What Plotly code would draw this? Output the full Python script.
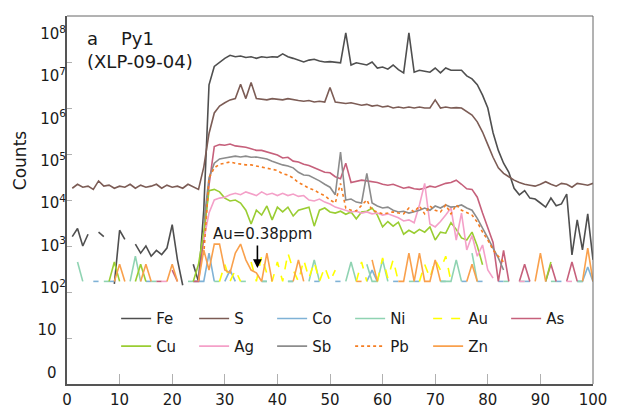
import plotly.graph_objects as go

FONT = "DejaVu Sans"
N = None

time_s = list(range(1, 101))

fe = [1.6e3, 2.4e3, 1.0e3, 1.8e3, N, 2.0e3, 1.6e3, N, 150, 2.2e3,
      1.4e3, N, 1.1e3, 700, 1.0e3, 600, 800, 650, 900, 2.9e3,
      500, 140, N, 400, 170, 6.0e3, 3.2e6, 8.0e6, 1.0e7, 1.2e7,
      1.4e7, 1.3e7, 1.35e7, 1.25e7, 1.3e7, 1.2e7, 1.3e7, 1.25e7, 1.3e7, 1.28e7,
      1.5e7, 1.3e7, 1.2e7, 1.1e7, 1.0e7, 1.1e7, 1.15e7, 1.05e7, 1.0e7, 1.02e7,
      9.8e6, 9.6e6, 4.3e7, 8.6e6, 9.6e6, 9.0e6, 8.6e6, 1.0e7, 7.4e6, 7.8e6,
      7.0e6, 8.6e6, 6.8e6, 5.8e6, 4.3e7, 6.0e6, 6.6e6, 6.3e6, 6.0e6, 7.4e6,
      5.8e6, 7.4e6, 6.6e6, 6.6e6, 6.6e6, 5.0e6, 4.3e6, 3.2e6, 1.9e6, 1.0e6,
      2.9e5, 1.2e5, 6.3e4, 4.0e4, 1.8e4, 1.3e4, 1.6e4, 1.1e4, 1.05e4, 8.6e3,
      7.0e3, 1.1e4, 7.5e3, 8.2e3, 1.35e4, 640, 3.7e3, 820, 5.0e3, 500]

s = [1.8e4, 2.2e4, 1.9e4, 2.0e4, 1.7e4, 2.6e4, 2.0e4, 2.1e4, 1.8e4, 2.0e4,
     1.9e4, 2.2e4, 1.8e4, 2.1e4, 1.9e4, 2.0e4, 2.2e4, 1.8e4, 2.1e4, 1.9e4,
     2.0e4, 1.8e4, 2.2e4, 1.9e4, 1.7e4, 5.2e4, 2.8e5, 7.8e5, 1.1e6, 1.3e6,
     1.5e6, 1.6e6, 3.3e6, 1.6e6, 3.6e6, 1.6e6, 1.55e6, 1.5e6, 1.6e6, 1.55e6,
     1.5e6, 1.6e6, 1.5e6, 1.45e6, 1.4e6, 1.45e6, 1.35e6, 1.4e6, 1.35e6, 2.8e6,
     1.35e6, 1.3e6, 1.25e6, 1.3e6, 1.2e6, 1.15e6, 1.2e6, 1.1e6, 1.15e6, 1.05e6,
     1.1e6, 1.0e6, 1.05e6, 1.0e6, 1.05e6, 1.0e6, 1.05e6, 1.0e6, 1.0e6, 1.5e6,
     1.0e6, 1.05e6, 1.0e6, 1.02e6, 1.0e6, 8.5e5, 7.0e5, 5.0e5, 3.0e5, 1.6e5,
     8.5e4, 5.0e4, 3.8e4, 3.2e4, 2.7e4, 2.4e4, 2.2e4, 2.1e4, 2.0e4, 2.2e4,
     2.5e4, 2.2e4, 2.0e4, 2.3e4, 2.2e4, 1.9e4, 2.3e4, 2.2e4, 2.1e4, 2.3e4]

co = [N, N, N, N, 170, 170, N, 170, 170, N,
      N, N, N, N, 170, 170, N, N, N, N,
      N, N, N, 170, 170, 170, 700, 170, N, 170,
      300, 170, N, N, N, N, 170, 170, N, N,
      N, 170, 170, N, N, N, 170, 170, N, N,
      170, 170, N, N, N, N, 170, 300, 170, N,
      N, 170, 170, N, N, 170, 170, N, N, N,
      170, 170, N, N, 170, 170, N, 170, 170, N,
      N, 170, 170, N, N, N, 170, 170, N, N,
      N, N, 170, 170, N, N, 170, 170, 350, 170]

ni = [N, 450, 170, N, N, N, 170, 170, N, N,
      N, 170, 600, 170, N, 170, 170, N, N, N,
      N, N, 170, 170, N, N, N, 170, 170, N,
      N, N, 170, 170, N, N, 170, 170, N, N,
      N, 170, 170, N, N, 170, 500, 170, N, N,
      N, N, 170, 450, 170, N, 400, 170, 170, 500,
      170, N, N, N, 170, 170, N, N, N, N,
      170, 170, 170, 500, 170, N, 700, 170, N, N,
      N, N, 170, 170, N, 170, 170, N, N, N,
      N, 170, 170, N, N, N, 170, 170, N, N]

au = [N, N, N, N, N, N, N, N, N, N,
      N, N, N, N, N, N, N, N, N, N,
      N, N, N, N, N, N, N, N, 170, 400,
      170, 300, 170, N, 450, 170, 600, 250, 170, 450,
      170, 700, 300, 170, 500, 200, 450, 170, 350, 170,
      300, N, N, N, 170, 450, 170, N, 170, 550,
      200, 500, 170, N, N, N, 170, 400, 200, 500,
      300, 600, 170, N, N, N, N, N, N, N,
      N, N, N, N, N, N, N, N, N, N,
      N, N, N, N, N, N, N, N, N, N]

as_ = [N, N, N, N, N, N, N, N, N, N,
       N, N, N, N, N, N, 170, 170, N, 300,
       170, N, N, 170, 170, 1.5e3, 2.1e4, 1.45e5, 1.6e5, 1.55e5,
       1.65e5, 1.5e5, 1.45e5, 1.4e5, 1.3e5, 1.2e5, 1.2e5, 1.1e5, 1.0e5, 9.5e4,
       8.2e4, 8.5e4, 7.0e4, 6.7e4, 6.0e4, 5.6e4, 5.0e4, 4.5e4, 4.0e4, 3.9e4,
       3.2e4, 2.9e4, 6.3e4, 2.4e4, 2.5e4, 2.7e4, 2.6e4, 2.5e4, 2.4e4, 2.2e4,
       2.1e4, 2.2e4, 2.0e4, 1.8e4, 1.9e4, 1.75e4, 1.7e4, 1.8e4, 2.0e4, 1.9e4,
       2.1e4, 2.3e4, 2.4e4, 2.7e4, 2.2e4, 1.75e4, 1.7e4, 1.15e4, 5.2e3, 2.4e3,
       1.2e3, 170, 800, 170, N, 170, 400, 170, N, N,
       170, 400, 170, N, 170, 450, 170, N, N, N]

cu = [N, N, N, N, N, N, N, 170, 450, 170,
      N, N, 170, 400, 170, N, N, N, N, N,
      N, N, N, 170, 400, 2.0e3, 1.6e4, 1.7e4, 1.5e4, 1.1e4,
      9.5e3, 1.0e4, 8.6e3, 6.0e3, 3.0e3, 6.0e3, 4.7e3, 7.4e3, 3.7e3, 7.0e3,
      5.5e3, 7.0e3, 4.5e3, 6.0e3, 6.4e3, 7.0e3, 2.7e3, 6.0e3, 6.7e3, 5.5e3,
      5.2e3, 5.7e3, 4.9e3, 5.5e3, 3.9e3, 5.5e3, 5.7e3, 6.7e3, 4.7e3, 2.6e3,
      3.4e3, 2.7e3, 3.3e3, 1.8e3, 2.2e3, 1.9e3, 2.3e3, 2.0e3, 2.6e3, 1.35e3,
      2.0e3, 1.9e3, 3.2e3, 2.3e3, 1.5e3, 1.35e3, 2.0e3, 1.0e3, 390, N,
      N, N, N, N, N, N, N, N, N, N,
      170, 450, N, N, N, N, N, N, N, N]

ag = [N, N, N, N, N, N, N, N, N, N,
      N, N, N, N, N, N, N, 170, 170, N,
      N, N, N, N, N, 1.35e3, 5.2e3, 1.0e4, 1.1e4, 1.15e4,
      1.3e4, 1.4e4, 1.3e4, 1.5e4, 1.35e4, 1.25e4, 1.5e4, 1.3e4, 1.4e4, 1.25e4,
      1.4e4, 1.25e4, 1.35e4, 1.2e4, 1.25e4, 1.0e4, 9.5e3, 1.05e4, 9.0e3, 8.2e3,
      7.0e3, 6.4e3, 6.0e3, 5.5e3, 5.7e3, 5.2e3, 5.5e3, 5.0e3, 5.2e3, 4.7e3,
      5.0e3, 4.5e3, 4.1e3, 3.5e3, 3.7e3, 3.2e3, 7.8e3, 2.3e4, 3.0e3, 2.6e3,
      3.4e3, 4.7e3, 6.7e3, 1.35e3, 5.2e3, 820, 1.7e3, 600, 1.05e3, 300,
      200, N, N, N, N, 170, 170, N, N, N,
      N, N, N, N, 170, 170, N, N, N, N]

sb = [N, N, N, N, N, N, N, N, N, N,
      N, N, N, N, N, N, N, N, N, N,
      N, N, N, N, N, 3.2e3, 3.0e4, 6.3e4, 7.8e4, 8.2e4,
      8.5e4, 9.0e4, 8.6e4, 9.0e4, 8.5e4, 8.6e4, 8.2e4, 7.8e4, 7.0e4, 6.3e4,
      5.8e4, 5.5e4, 5.0e4, 4.0e4, 3.5e4, 3.4e4, 3.0e4, 2.6e4, 2.2e4, 1.9e4,
      1.3e4, 1.1e5, 1.0e4, 1.05e4, 9.0e3, 8.6e3, 3.8e4, 8.6e3, 7.4e3, 6.7e3,
      7.0e3, 6.0e3, 5.5e3, 5.7e3, 5.2e3, 5.5e3, 6.0e3, 6.7e3, 6.0e3, 7.4e3,
      6.7e3, 7.8e3, 7.0e3, 7.2e3, 7.8e3, 6.7e3, 6.0e3, 4.0e3, 2.5e3, 1.5e3,
      900, 550, 300, N, N, N, N, N, N, N,
      N, N, N, N, N, N, N, N, N, N]

pb = [N, N, N, N, N, N, N, N, N, N,
      N, N, N, N, N, N, N, N, N, N,
      N, N, N, N, N, 640, 3.0e4, 5.0e4, 6.0e4, 6.3e4,
      6.7e4, 6.3e4, 6.0e4, 5.8e4, 5.8e4, 5.5e4, 5.2e4, 5.0e4, 4.6e4, 4.4e4,
      3.7e4, 3.5e4, 3.0e4, 2.4e4, 2.1e4, 1.8e4, 1.65e4, 1.4e4, 1.25e4, 1.0e4,
      8.6e3, 2.3e4, 6.7e3, 6.0e3, 5.8e3, 7.8e3, 1.0e4, 6.0e3, 5.5e3, 5.0e3,
      5.2e3, 5.5e3, 5.2e3, 5.0e3, 6.7e3, 5.5e3, 7.4e3, 5.0e3, 7.4e3, 6.0e3,
      5.5e3, 7.8e3, 5.0e3, 7.8e3, 6.0e3, 5.2e3, 4.7e3, 3.3e3, 2.0e3, 1.35e3,
      820, 600, 450, N, N, N, N, N, N, N,
      N, N, N, N, N, N, N, N, N, N]

zn = [N, N, N, N, N, N, N, N, 170, 400,
      170, N, N, 170, 400, 170, N, N, 170, 400,
      170, N, N, N, 170, 820, 300, 1100, 1100, 300,
      260, 700, 1100, 500, 300, 260, 170, 700, 170, N,
      N, N, 170, 500, 170, N, N, N, N, N,
      N, N, N, N, 170, 170, N, 500, 170, N,
      N, N, 170, 170, 700, 170, 700, 170, 170, 500,
      170, N, N, N, N, 170, 400, 170, N, N,
      N, N, N, N, N, N, N, N, 170, 700,
      170, N, N, N, N, N, N, 170, 900, 170]

elements = ["Fe", "S", "Co", "Ni", "Au", "As", "Cu", "Ag", "Sb", "Pb", "Zn"]
series = [fe, s, co, ni, au, as_, cu, ag, sb, pb, zn]
colors = ["#4f4f4f", "#7c5c55", "#7fb2d6", "#8fd3b2", "#ffff00", "#c6607b",
          "#9acd32", "#f4a0c8", "#8c8c8c", "#f57d22", "#f9a04c"]
dashes = ["solid", "solid", "solid", "solid", "dash", "solid",
          "solid", "solid", "solid", "dot", "solid"]

fig = go.Figure()
for i, (name, ys) in enumerate(zip(elements, series)):
    fig.add_trace(go.Scatter(
        x=time_s, y=ys, name=name, mode="lines",
        line=dict(color=colors[i], width=1.6, dash=dashes[i]),
        connectgaps=False,
        legend="legend" if i < 6 else "legend2",
    ))

# helper trace for the label axis
fig.add_trace(go.Scatter(x=[None], y=[None], yaxis="y2", showlegend=False,
                         hoverinfo="skip"))

decades = [1, 10, 1e2, 1e3, 1e4, 1e5, 1e6, 1e7, 1e8]
dec_text = ["0\u00a0\u00a0", "10\u00a0\u00a0", "10<sup>2</sup>", "10<sup>3</sup>",
            "10<sup>4</sup>", "10<sup>5</sup>", "10<sup>6</sup>",
            "10<sup>7</sup>", "10<sup>8</sup>"]
x_ticks = list(range(0, 101, 10))

tickfont = dict(family=FONT, size=15, color="#1a1a1a")
legfont = dict(family=FONT, size=15, color="#1a1a1a")

fig.update_layout(
    template="none",
    width=617, height=412,
    margin=dict(l=67, r=24, t=16, b=28, autoexpand=False),
    paper_bgcolor="white", plot_bgcolor="white",
    font=dict(family=FONT, color="#1a1a1a"),
    xaxis=dict(range=[0, 100], tickvals=x_ticks, ticks="inside", ticklen=10,
               tickcolor="#b0b0b0", tickwidth=1, showline=True,
               linecolor="#555555", linewidth=2, showgrid=False,
               zeroline=False, tickfont=tickfont, ticklabelstandoff=1,
               automargin=False),
    yaxis=dict(type="log", range=[0, 8], tickvals=decades, ticks="inside",
               ticklen=5, tickcolor="#b0b0b0", tickwidth=1,
               showticklabels=False, showline=True, linecolor="#555555",
               linewidth=2, showgrid=False, zeroline=False, automargin=False),
    yaxis2=dict(type="log", overlaying="y", side="left", anchor="x",
                range=[-0.272, 8.418], tickvals=decades, ticktext=dec_text,
                ticks="", showline=False, showgrid=False, zeroline=False,
                tickfont=tickfont, automargin=False),
    legend=dict(orientation="h", x=0.0934, xanchor="left", y=0.222,
                yanchor="top", entrywidth=33, entrywidthmode="pixels",
                font=legfont, bgcolor="rgba(0,0,0,0)"),
    legend2=dict(orientation="h", x=0.0934, xanchor="left", y=0.147,
                 yanchor="top", entrywidth=33, entrywidthmode="pixels",
                 font=legfont, bgcolor="rgba(0,0,0,0)"),
    shapes=[
        dict(type="line", xref="paper", yref="paper", x0=0, x1=1, y0=1, y1=1,
             line=dict(color="#666666", width=1)),
        dict(type="line", xref="paper", yref="paper", x0=1, x1=1, y0=0, y1=1,
             line=dict(color="#666666", width=1)),
    ],
    annotations=[
        dict(text="a\u00a0\u00a0\u00a0\u00a0Py1<br>(XLP-09-04)", xref="paper",
             yref="paper", x=0.034, y=0.972, xanchor="left", yanchor="top",
             align="left", showarrow=False,
             font=dict(family=FONT, size=18, color="#1a1a1a")),
        dict(text="Counts", xref="paper", yref="paper", x=-0.089, y=0.606,
             textangle=-90, showarrow=False, xanchor="center",
             yanchor="middle", font=dict(family=FONT, size=17, color="#1a1a1a")),
        dict(text="Au=0.38ppm", xref="x", yref="y", x=37.2, y=3.26,
             showarrow=False, font=dict(family=FONT, size=15, color="#1a1a1a")),
        dict(text="", xref="x", yref="y", x=36.2, y=2.52, ax=0, ay=-24,
             showarrow=True, arrowhead=2, arrowsize=1.1, arrowwidth=1.6,
             arrowcolor="black"),
    ],
)

fig.write_html("out.html")
